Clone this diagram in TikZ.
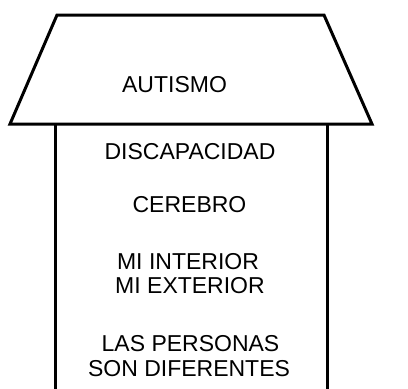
\documentclass[tikz,border=0pt]{standalone}
\usepackage{fontspec}
\setmainfont{Liberation Sans}
\begin{document}
\begin{tikzpicture}[x=1pt,y=-1pt,
  lbl/.style={anchor=base, inner sep=0pt, font=\fontsize{23}{25}\selectfont},
  outline/.style={line width=3pt, line join=miter}]
\useasboundingbox (0,0) rectangle (408,389);
\clip (0,0) rectangle (408,389);
% roof (trapezoid)
\draw[outline] (57,15) -- (324,15) -- (372,124) -- (10,124) -- cycle;
% body sides
\draw[outline] (55,124) -- (55,400);
\draw[outline] (327,124) -- (327,400);
% texts
\node[lbl] (autismo) at (174.5,92) {AUTISMO};
\node[lbl] (discap) at (190,159) {DISCAPACIDAD};
\node[lbl] (cerebro) at (189.5,212) {CEREBRO};
\node[lbl] (interior) at (188,269) {MI INTERIOR};
\node[lbl] (exterior) at (190,293) {MI EXTERIOR};
\node[lbl] (personas) at (190.5,351) {LAS PERSONAS};
\node[lbl] (diferentes) at (189,376) {SON DIFERENTES};
\end{tikzpicture}
\end{document}
